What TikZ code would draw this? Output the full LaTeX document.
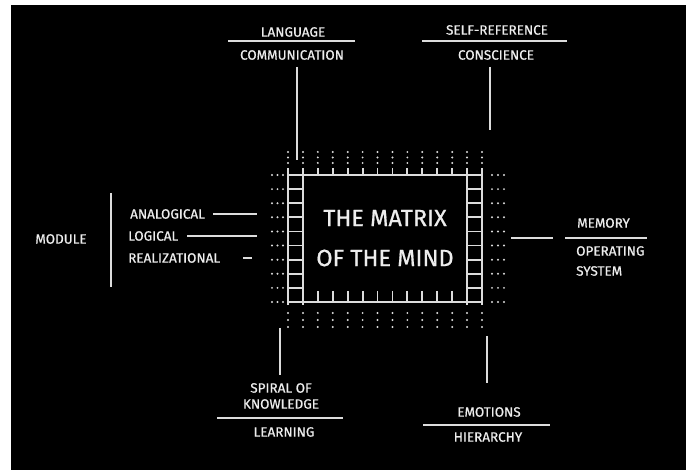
\documentclass[tikz,border=0pt]{standalone}
\usepackage{fontspec}
\setmainfont{Fira Sans}
\newfontfamily\hand{Fira Sans}[FakeBold=0.7]
\definecolor{linec}{HTML}{DCDCDC}
\definecolor{txtc}{HTML}{EDEDED}
\begin{document}
\begin{tikzpicture}[x=1pt,y=-1pt,
  ln/.style={draw=linec, line width=1.8pt},
  lbl/.style={text=txtc, font=\hand\fontsize{13.5}{15}\selectfont, inner sep=0pt},
  big/.style={text=txtc, font=\hand\fontsize{23.5}{26}\selectfont, inner sep=0pt},
  dotf/.style={fill=linec}]
\useasboundingbox (0,0) rectangle (686,470);
\fill[white] (0,0) rectangle (686,470);
\fill[black] (11,5) rectangle (686,470);
% chip columns
\foreach \i in {0,...,13} {
  \pgfmathsetmacro\xx{288+\i*14.923}
  \ifnum\i=0 \draw[ln] (\xx,168) -- (\xx,305);
  \else\ifnum\i=1 \draw[ln] (\xx,168) -- (\xx,305);
  \else\ifnum\i=12 \draw[ln] (\xx,168) -- (\xx,305);
  \else\ifnum\i=13 \draw[ln] (\xx,168) -- (\xx,305);
  \else \draw[ln] (\xx,168) -- (\xx,175); \draw[ln] (\xx,291) -- (\xx,302);
  \fi\fi\fi\fi
  \foreach \yy in {152,157.5,163,313,320,327} \fill[dotf] (\xx,\yy) circle (1.1);
}
% chip rows
\foreach \j in {0,...,9} {
  \pgfmathsetmacro\yy{175+\j*14.111}
  \ifnum\j=0 \draw[ln] (288,\yy) -- (482,\yy);
  \else\ifnum\j=9 \draw[ln] (288,\yy) -- (482,\yy);
  \else \draw[ln] (288,\yy) -- (303,\yy); \draw[ln] (467,\yy) -- (482,\yy);
  \fi\fi
  \foreach \xx in {272,277.5,283,492,498,504} \fill[dotf] (\xx,\yy) circle (1.1);
}
\node[big] (t1) at (385,218) {THE MATRIX};
\node[big] (t2) at (385,258) {OF THE MIND};
% top left label
\node[lbl] (lang) at (293,32) {LANGUAGE};
\node[lbl] (comm) at (292,55) {COMMUNICATION};
\coordinate (langL) at (228,41); \coordinate (langR) at (355,41);
\draw[ln] (langL) -- (langR);
\coordinate (commA) at (297,67); \coordinate (commB) at (297,160);
\draw[ln] (commA) -- (commB);
% top right label
\node[lbl] (self) at (497,30) {SELF-REFERENCE};
\node[lbl] (consc) at (496,55) {CONSCIENCE};
\coordinate (selfL) at (422,41); \coordinate (selfR) at (567,41);
\draw[ln] (selfL) -- (selfR);
\coordinate (conA) at (490,67); \coordinate (conB) at (490,130);
\draw[ln] (conA) -- (conB);
% bottom left label
\coordinate (spA) at (280,328); \coordinate (spB) at (280,375);
\draw[ln] (spA) -- (spB);
\node[lbl] (spiral) at (281,388) {SPIRAL OF};
\node[lbl] (know) at (281,404) {KNOWLEDGE};
\coordinate (knL) at (217,418); \coordinate (knR) at (343,418);
\draw[ln] (knL) -- (knR);
\node[lbl] (learn) at (284,432) {LEARNING};
% bottom right label
\coordinate (emA) at (487,336); \coordinate (emB) at (487,383);
\draw[ln] (emA) -- (emB);
\node[lbl] (emo) at (489,412) {EMOTIONS};
\coordinate (emL) at (423,425); \coordinate (emR) at (550,425);
\draw[ln] (emL) -- (emR);
\node[lbl] (hier) at (488,437) {HIERARCHY};
% right label
\coordinate (meA) at (511,238); \coordinate (meB) at (553,238);
\draw[ln] (meA) -- (meB);
\coordinate (meL) at (565,238); \coordinate (meR) at (647,238);
\draw[ln] (meL) -- (meR);
\node[lbl, anchor=west] (mem) at (577,223) {MEMORY};
\node[lbl, anchor=west] (oper) at (576,251) {OPERATING};
\node[lbl, anchor=west] (sys) at (576,271) {SYSTEM};
% left label
\node[lbl] (mod) at (61,239) {MODULE};
\coordinate (modA) at (111,193); \coordinate (modB) at (111,287);
\draw[ln] (modA) -- (modB);
\node[lbl, anchor=west] (ana) at (130,214) {ANALOGICAL};
\node[lbl, anchor=west] (logi) at (128,236) {LOGICAL};
\node[lbl, anchor=west] (real) at (128,258) {REALIZATIONAL};
\coordinate (anaA) at (213,214); \coordinate (anaB) at (257,214);
\draw[ln] (anaA) -- (anaB);
\coordinate (logA) at (187,236); \coordinate (logB) at (257,236);
\draw[ln] (logA) -- (logB);
\coordinate (reA) at (243,258); \coordinate (reB) at (252,258);
\draw[ln] (reA) -- (reB);
\end{tikzpicture}
\end{document}
